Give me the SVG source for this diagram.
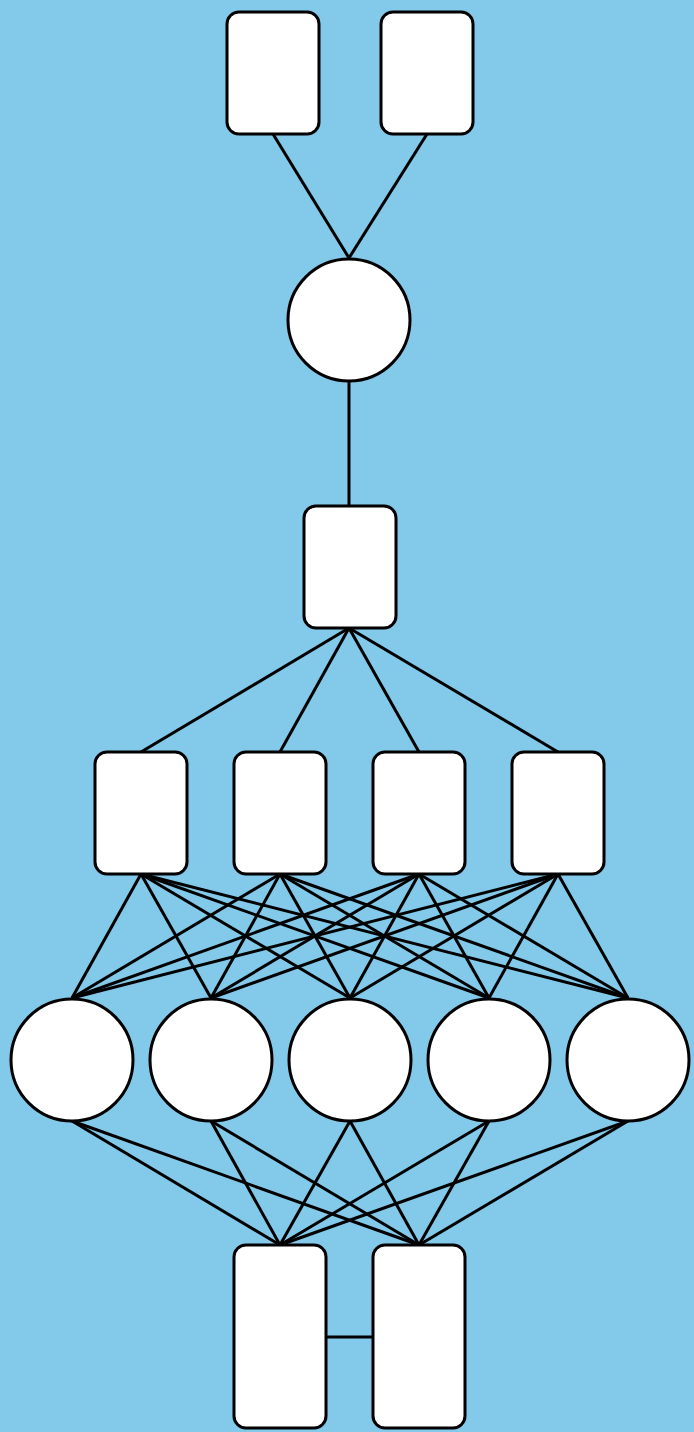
<svg xmlns="http://www.w3.org/2000/svg" width="694" height="1432" viewBox="0 0 694 1432">
<style>
.n{fill:#ffffff;stroke:#000000;stroke-width:3}
.e line{stroke:#000000;stroke-width:3}
</style>
<rect x="0" y="0" width="694" height="1432" fill="#83c9ea"/>
<g class="e" id="connectors">
<line x1="273" y1="134" x2="349" y2="258"/>
<line x1="427" y1="134" x2="349" y2="258"/>
<line x1="349" y1="381" x2="349" y2="506"/>
<line x1="349" y1="628" x2="141" y2="752"/>
<line x1="349" y1="628" x2="280" y2="752"/>
<line x1="349" y1="628" x2="419" y2="752"/>
<line x1="349" y1="628" x2="558" y2="752"/>
<line x1="141" y1="874" x2="72" y2="998"/>
<line x1="141" y1="874" x2="211" y2="998"/>
<line x1="141" y1="874" x2="350" y2="998"/>
<line x1="141" y1="874" x2="489" y2="998"/>
<line x1="141" y1="874" x2="628" y2="998"/>
<line x1="280" y1="874" x2="72" y2="998"/>
<line x1="280" y1="874" x2="211" y2="998"/>
<line x1="280" y1="874" x2="350" y2="998"/>
<line x1="280" y1="874" x2="489" y2="998"/>
<line x1="280" y1="874" x2="628" y2="998"/>
<line x1="419" y1="874" x2="72" y2="998"/>
<line x1="419" y1="874" x2="211" y2="998"/>
<line x1="419" y1="874" x2="350" y2="998"/>
<line x1="419" y1="874" x2="489" y2="998"/>
<line x1="419" y1="874" x2="628" y2="998"/>
<line x1="558" y1="874" x2="72" y2="998"/>
<line x1="558" y1="874" x2="211" y2="998"/>
<line x1="558" y1="874" x2="350" y2="998"/>
<line x1="558" y1="874" x2="489" y2="998"/>
<line x1="558" y1="874" x2="628" y2="998"/>
<line x1="72" y1="1121" x2="280" y2="1245"/>
<line x1="72" y1="1121" x2="419" y2="1245"/>
<line x1="211" y1="1121" x2="280" y2="1245"/>
<line x1="211" y1="1121" x2="419" y2="1245"/>
<line x1="350" y1="1121" x2="280" y2="1245"/>
<line x1="350" y1="1121" x2="419" y2="1245"/>
<line x1="489" y1="1121" x2="280" y2="1245"/>
<line x1="489" y1="1121" x2="419" y2="1245"/>
<line x1="628" y1="1121" x2="280" y2="1245"/>
<line x1="628" y1="1121" x2="419" y2="1245"/>
<line x1="326" y1="1337" x2="373" y2="1337"/>
</g>
<g id="top1"><rect class="n" x="227" y="12" width="92" height="122" rx="12"/></g>
<g id="top2"><rect class="n" x="381" y="12" width="92" height="122" rx="12"/></g>
<g id="hub"><circle class="n" cx="349" cy="320" r="61"/></g>
<g id="mid"><rect class="n" x="304" y="506" width="92" height="122" rx="12"/></g>
<g id="r1"><rect class="n" x="95" y="752" width="92" height="122" rx="12"/></g>
<g id="r2"><rect class="n" x="234" y="752" width="92" height="122" rx="12"/></g>
<g id="r3"><rect class="n" x="373" y="752" width="92" height="122" rx="12"/></g>
<g id="r4"><rect class="n" x="512" y="752" width="92" height="122" rx="12"/></g>
<g id="c1"><circle class="n" cx="72" cy="1060" r="61"/></g>
<g id="c2"><circle class="n" cx="211" cy="1060" r="61"/></g>
<g id="c3"><circle class="n" cx="350" cy="1060" r="61"/></g>
<g id="c4"><circle class="n" cx="489" cy="1060" r="61"/></g>
<g id="c5"><circle class="n" cx="628" cy="1060" r="61"/></g>
<g id="b1"><rect class="n" x="234" y="1245" width="92" height="183" rx="12"/></g>
<g id="b2"><rect class="n" x="373" y="1245" width="92" height="183" rx="12"/></g>
</svg>
